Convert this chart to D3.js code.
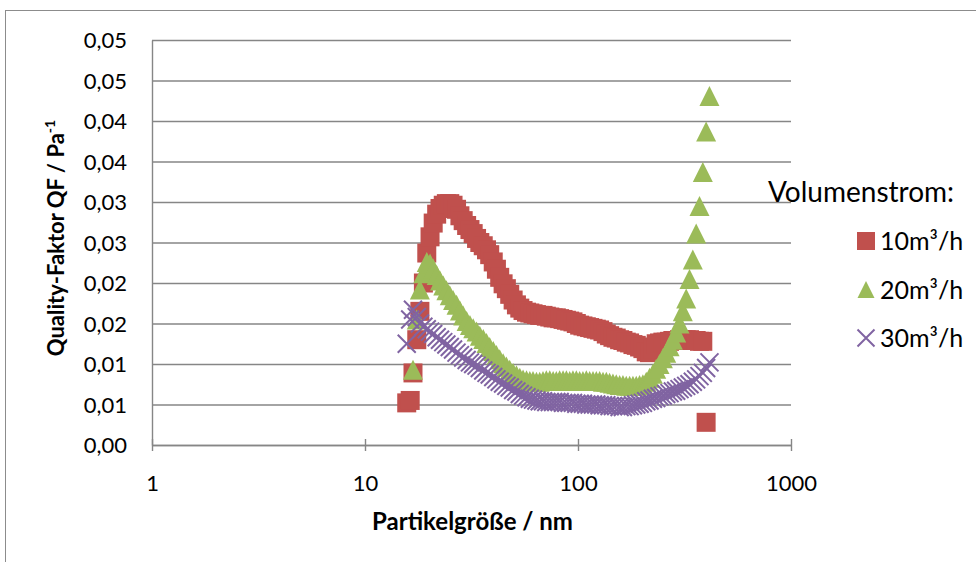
<!DOCTYPE html>
<html>
<head>
<meta charset="utf-8">
<script src="https://cdn.jsdelivr.net/npm/d3@7"></script>
<style>
body { margin: 0; background: #fff; }
text { font-family: Lato, "Open Sans", sans-serif; fill: #000; }
</style>
</head>
<body>
<script>
// particle size channels (nm)
const sizes = [15.7, 16.3, 16.8, 17.5, 18.1, 18.8, 19.5, 20.2, 20.9, 21.7,
    22.5, 23.3, 24.1, 25.0, 25.9, 26.9, 27.9, 28.9, 30.0, 31.1,
    32.2, 33.4, 34.6, 35.9, 37.2, 38.5, 40.0, 41.4, 42.9, 44.5,
    46.1, 47.8, 49.6, 51.4, 53.3, 55.2, 57.3, 59.4, 61.5, 63.8,
    66.1, 68.5, 71.0, 73.7, 76.4, 79.1, 82.0, 85.1, 88.2, 91.4,
    94.7, 98.2, 101.8, 105.5, 109.4, 113.4, 117.6, 121.9, 126.3, 131.0,
    135.8, 140.7, 145.9, 151.2, 156.8, 162.5, 168.5, 174.7, 181.1, 187.7,
    194.6, 201.7, 209.1, 216.7, 224.7, 232.9, 241.4, 250.3, 259.5, 269.0,
    278.8, 289.0, 299.6, 310.6, 322.0, 333.8, 346.0, 358.7, 371.8, 385.4,
    399.5, 414.2];

// quality factor, 10 m3/h
const qf10 = [0.0052, 0.0055, 0.0089, 0.0130, 0.0165, 0.0200, 0.0237, 0.0257, 0.0274, 0.0285,
    0.0292, 0.0296, 0.0298, 0.0298, 0.0296, 0.0291, 0.0283, 0.0277, 0.0271, 0.0266,
    0.0261, 0.0255, 0.0250, 0.0246, 0.0241, 0.0235, 0.0226, 0.0217, 0.0207, 0.0199,
    0.0193, 0.0186, 0.0179, 0.0173, 0.0169, 0.0166, 0.0164, 0.0163, 0.0162, 0.0161,
    0.0160, 0.0160, 0.0159, 0.0158, 0.0157, 0.0157, 0.0156, 0.0155, 0.0154, 0.0153,
    0.0152, 0.0150, 0.0148, 0.0147, 0.0146, 0.0145, 0.0144, 0.0143, 0.0142, 0.0140,
    0.0137, 0.0135, 0.0133, 0.0132, 0.0130, 0.0129, 0.0127, 0.0126, 0.0124, 0.0123,
    0.0121, 0.0119, 0.0115, 0.0114, 0.0119, 0.0125, 0.0126, 0.0127, 0.0127, 0.0128,
    0.0129, 0.0129, 0.0130, 0.0130, 0.0130, 0.0130, 0.0129, 0.0129, 0.0128, 0.0128,
    0.0028, null];

// quality factor, 20 m3/h
const qf20 = [null, null, 0.0093, 0.0155, 0.0192, 0.0212, 0.0226, 0.0224, 0.0218, 0.0210,
    0.0203, 0.0197, 0.0191, 0.0185, 0.0179, 0.0173, 0.0166, 0.0160, 0.0153, 0.0148,
    0.0144, 0.0140, 0.0135, 0.0131, 0.0126, 0.0121, 0.0116, 0.0111, 0.0106, 0.0101,
    0.0097, 0.0093, 0.0089, 0.0086, 0.0083, 0.0081, 0.0080, 0.0079, 0.0079, 0.0078,
    0.0078, 0.0079, 0.0080, 0.0080, 0.0079, 0.0079, 0.0080, 0.0080, 0.0080, 0.0079,
    0.0080, 0.0080, 0.0079, 0.0079, 0.0080, 0.0079, 0.0079, 0.0079, 0.0079, 0.0078,
    0.0078, 0.0077, 0.0076, 0.0075, 0.0074, 0.0074, 0.0073, 0.0073, 0.0073, 0.0073,
    0.0074, 0.0075, 0.0078, 0.0083, 0.0088, 0.0094, 0.0100, 0.0107, 0.0114, 0.0122,
    0.0130, 0.0139, 0.0150, 0.0165, 0.0181, 0.0205, 0.0229, 0.0261, 0.0295, 0.0337,
    0.0387, 0.0431];

// quality factor, 30 m3/h
const qf30 = [0.0125, 0.0155, 0.0167, 0.0158, 0.0150, 0.0146, 0.0143, 0.0140, 0.0137, 0.0133,
    0.0130, 0.0127, 0.0124, 0.0121, 0.0118, 0.0114, 0.0111, 0.0108, 0.0105, 0.0102,
    0.0100, 0.0098, 0.0095, 0.0092, 0.0089, 0.0087, 0.0084, 0.0081, 0.0078, 0.0076,
    0.0073, 0.0071, 0.0068, 0.0066, 0.0063, 0.0061, 0.0059, 0.0057, 0.0056, 0.0055,
    0.0054, 0.0054, 0.0053, 0.0053, 0.0053, 0.0053, 0.0053, 0.0052, 0.0052, 0.0052,
    0.0052, 0.0051, 0.0051, 0.0051, 0.0050, 0.0050, 0.0050, 0.0050, 0.0049, 0.0049,
    0.0049, 0.0048, 0.0048, 0.0048, 0.0047, 0.0047, 0.0048, 0.0048, 0.0049, 0.0050,
    0.0051, 0.0052, 0.0054, 0.0055, 0.0057, 0.0058, 0.0060, 0.0061, 0.0063, 0.0064,
    0.0066, 0.0067, 0.0069, 0.0071, 0.0073, 0.0075, 0.0078, 0.0081, 0.0085, 0.0089,
    0.0095, 0.0102];

const seriesNames = ["10m³/h", "20m³/h", "30m³/h"];
const xTicks = [1, 10, 100, 1000];
const yTicks = [0, 0.005, 0.01, 0.015, 0.02, 0.025, 0.03, 0.035, 0.04, 0.045, 0.05];
const yTickLabels = ["0,00", "0,01", "0,01", "0,02", "0,02", "0,03", "0,03", "0,04", "0,04", "0,05", "0,05"];

// set the dimensions and margins of the graph
const margin = {top: 40, right: 185, bottom: 117, left: 152};
const width = 976 - margin.left - margin.right;
const height = 562 - margin.top - margin.bottom;

const svg = d3.select("body")
    .append("svg")
    .attr("width", 976)
    .attr("height", 562);

// outer chart frame (cropped on the right and bottom)
svg.append("rect")
    .attr("x", 5.5).attr("y", 10.5)
    .attr("width", 1000).attr("height", 600)
    .attr("fill", "none")
    .attr("stroke", "#8c8c8c");

const g = svg.append("g")
    .attr("transform", `translate(${margin.left}, ${margin.top})`);

const x = d3.scaleLog().domain([1, 1000]).range([0, width]);
const y = d3.scaleLinear().domain([0, 0.05]).range([height, 0]);

// y axis with gridlines
const yAxis = g.append("g")
    .call(d3.axisLeft(y)
        .tickValues(yTicks)
        .tickFormat((d, i) => yTickLabels[i])
        .tickSizeInner(-width)
        .tickSizeOuter(0)
        .tickPadding(25));
yAxis.selectAll(".tick line").attr("stroke", "#868686").attr("stroke-width", 1.4);
yAxis.select(".domain").attr("stroke", "#868686").attr("stroke-width", 1.4);
yAxis.selectAll("text").style("font-size", "22px").attr("dy", "0.36em");

// x axis
const xAxis = g.append("g")
    .attr("transform", `translate(0, ${height})`)
    .call(d3.axisBottom(x)
        .tickValues(xTicks)
        .tickFormat(d3.format("d"))
        .tickSizeInner(6)
        .tickSizeOuter(0)
        .tickPadding(24));
xAxis.selectAll(".tick line").attr("y1", -6).attr("stroke", "#868686").attr("stroke-width", 1.4);
xAxis.select(".domain").attr("stroke", "#868686").attr("stroke-width", 1.4);
xAxis.selectAll("text").style("font-size", "22px");

// axis titles
g.append("text")
    .attr("x", width / 2 + 1)
    .attr("y", height + 85)
    .attr("text-anchor", "middle")
    .style("font-size", "24px")
    .style("font-weight", "bold")
    .text("Partikelgröße / nm");

const yTitle = svg.append("text")
    .attr("transform", "translate(64, 238) rotate(-90)")
    .attr("text-anchor", "middle")
    .style("font-size", "22px")
    .style("font-weight", "bold");
yTitle.append("tspan").text("Quality-Faktor QF / Pa");
yTitle.append("tspan").attr("dy", -9).style("font-size", "14px").text("-1");

// marker shapes
const shapes = [
    {color: "#C0504D", path: s => `M${-s},${-s}H${s}V${s}H${-s}Z`, size: 9.5, legendSize: 9, stroke: false},
    {color: "#9BBB59", path: s => `M0,${-s}L${s},${s}L${-s},${s}Z`, size: 10, legendSize: 8.5, stroke: false},
    {color: "#8064A2", path: s => `M${-s},${-s}L${s},${s}M${-s},${s}L${s},${-s}`, size: 9, legendSize: 8.5, stroke: true}
];

const allSeries = [qf10, qf20, qf30];

allSeries.forEach(function(values, i) {
    const pts = sizes.map((d, j) => ({size: d, qf: values[j]})).filter(d => d.qf !== null);
    const sh = shapes[i];
    g.append("g")
        .selectAll("path")
        .data(pts)
        .enter().append("path")
            .attr("transform", d => `translate(${x(d.size)}, ${y(d.qf)})`)
            .attr("d", sh.path(sh.size))
            .attr("fill", sh.stroke ? "none" : sh.color)
            .attr("stroke", sh.stroke ? sh.color : "none")
            .attr("stroke-width", sh.stroke ? 2 : 0);
});

// legend
const legend = svg.append("g");
legend.append("text")
    .attr("x", 768)
    .attr("y", 202)
    .style("font-size", "28px")
    .text("Volumenstrom:");

const item = legend.selectAll(".item")
    .data(seriesNames)
    .enter().append("g")
        .attr("class", "item")
        .attr("transform", (d, i) => `translate(866, ${241 + i * 48.5})`);

item.append("path")
    .attr("d", (d, i) => shapes[i].path(shapes[i].legendSize))
    .attr("fill", (d, i) => shapes[i].stroke ? "none" : shapes[i].color)
    .attr("stroke", (d, i) => shapes[i].stroke ? shapes[i].color : "none")
    .attr("stroke-width", (d, i) => shapes[i].stroke ? 2 : 0);

item.append("text")
    .attr("x", 14)
    .attr("y", 9)
    .style("font-size", "25px")
    .text(d => d);
</script>
</body>
</html>
